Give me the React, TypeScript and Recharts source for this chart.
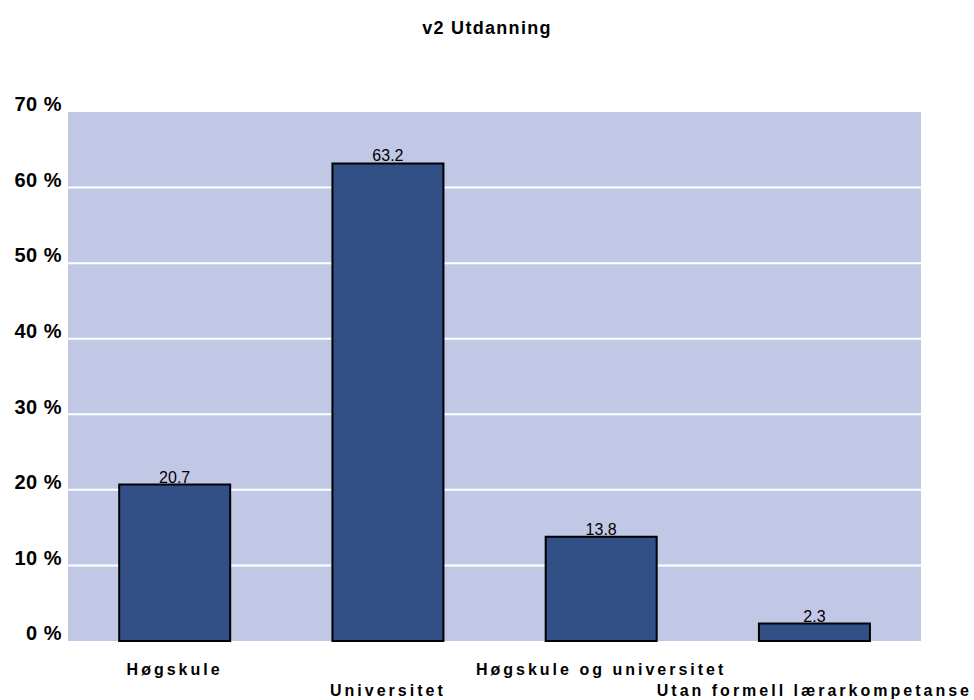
import { Bar, BarChart, CartesianGrid, LabelList, XAxis, YAxis } from "recharts";

const categories = ["Høgskule", "Universitet", "Høgskule og universitet", "Utan formell lærarkompetanse"];
const shares = [20.7, 63.2, 13.8, 2.3];
const yTicks = [0, 10, 20, 30, 40, 50, 60, 70];

const data = categories.map((name, i) => ({ name, value: shares[i] }));

const font = "'Liberation Sans', Arial, sans-serif";

function YTick({ x, y, payload }: any) {
  return (
    <text x={x + 2} y={y - 6} textAnchor="end" dominantBaseline="middle" fontFamily={font} fontWeight="bold" fontSize={20} letterSpacing={0.5} fill="#000">
      {payload.value} %
    </text>
  );
}

function XTick({ x, y, payload, index }: any) {
  const row = index % 2 === 0 ? 0 : 21;
  return (
    <text x={x} y={y + 22 + row} textAnchor="middle" dominantBaseline="middle" fontFamily={font} fontWeight="bold" fontSize={16} letterSpacing={3} fill="#000">
      {payload.value}
    </text>
  );
}

export default function App() {
  return (
    <div style={{ position: "absolute", left: 0, top: 0, width: 974, height: 700, background: "#fff" }}>
      <div style={{ position: "absolute", top: 18, width: 974, textAlign: "center", fontFamily: font, fontWeight: "bold", fontSize: 18, letterSpacing: 1.3 }}>
        v2 Utdanning
      </div>
      <BarChart width={974} height={700} data={data} margin={{ top: 112, right: 53, bottom: 0, left: 0 }} barCategoryGap="24%">
        <CartesianGrid fill="#C0C8E6" stroke="#fff" strokeWidth={2} vertical={false} horizontalValues={[10, 20, 30, 40, 50, 60]} />
        <XAxis dataKey="name" axisLine={false} tickLine={false} height={59} tick={<XTick />} interval={0} />
        <YAxis domain={[0, 70]} ticks={yTicks} axisLine={false} tickLine={false} width={68} tick={<YTick />} interval={0} />
        <Bar dataKey="value" fill="#325085" stroke="#000" strokeWidth={2} isAnimationActive={false}>
          <LabelList dataKey="value" position="top" offset={2} fontFamily={font} fontSize={16} fill="#000" />
        </Bar>
      </BarChart>
    </div>
  );
}
